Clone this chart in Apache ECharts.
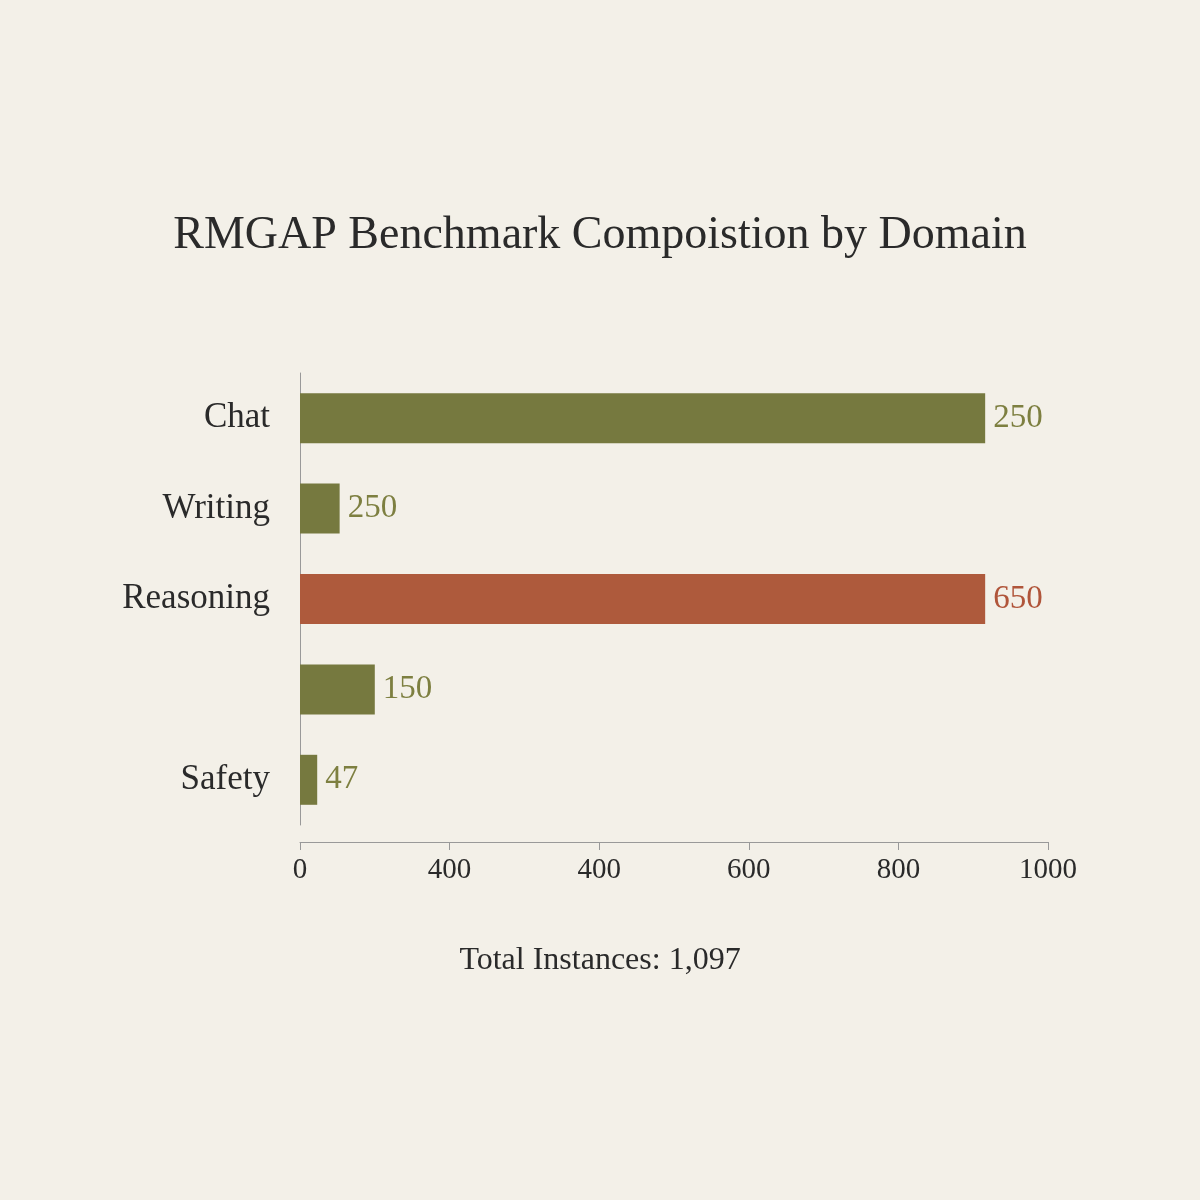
<!DOCTYPE html>
<html><head><meta charset="utf-8">
<script src="https://cdn.jsdelivr.net/npm/echarts@6/dist/echarts.min.js"></script>
<style>html,body{margin:0;background:#f3f0e8}#c{width:1200px;height:1200px}</style>
</head><body><div id="c"></div>
<script>
var categories = ['Chat', 'Writing', 'Reasoning', '', 'Safety'];
var barValues = [916, 53, 916, 100, 23];
var barLabels = ['250', '250', '650', '150', '47'];
var barColors = ['#76793f', '#76793f', '#ae5a3c', '#76793f', '#76793f'];
var labelColors = ['#7d7f40', '#7d7f40', '#b0553a', '#7d7f40', '#7d7f40'];
var tickLabels = ['0', '400', '400', '600', '800', '1000'];
var font = 'Liberation Serif';
var chart = echarts.init(document.getElementById('c'));
chart.setOption({
  backgroundColor: '#f3f0e8',
  textStyle: {fontFamily: font},
  title: [{text: 'RMGAP Benchmark Compoistion by Domain', left: 'center', top: 208,
    textStyle: {fontFamily: font, fontSize: 46, fontWeight: 'normal', color: '#2a2a2a'}},
    {text: 'Total Instances: 1,097', left: 'center', top: 940,
    textStyle: {fontFamily: font, fontSize: 32, fontWeight: 'normal', color: '#2a2a2a'}}],
  grid: {left: 300, right: 152, top: 373, bottom: 375},
  xAxis: {type: 'value', min: 0, max: 1000, interval: 200, offset: 17,
    axisLine: {show: true, lineStyle: {color: '#999'}},
    axisTick: {show: true, length: 8, lineStyle: {color: '#999'}},
    splitLine: {show: false},
    axisLabel: {fontSize: 29, color: '#2a2a2a', margin: 14, fontFamily: font,
      formatter: function (v, i) { return tickLabels[Math.round(v / 200)]; }}},
  yAxis: {type: 'category', data: categories, inverse: true,
    axisLine: {show: true, lineStyle: {color: '#999'}}, axisTick: {show: false},
    axisLabel: {fontSize: 35, color: '#2a2a2a', margin: 30, fontFamily: font}},
  series: [{type: 'bar', barWidth: 50,
    data: barValues.map(function (v, i) {
      return {value: v, itemStyle: {color: barColors[i]},
        label: {show: true, position: 'right', distance: 8, formatter: barLabels[i],
          fontSize: 33, color: labelColors[i], fontFamily: font}};
    })}]
});
</script></body></html>
